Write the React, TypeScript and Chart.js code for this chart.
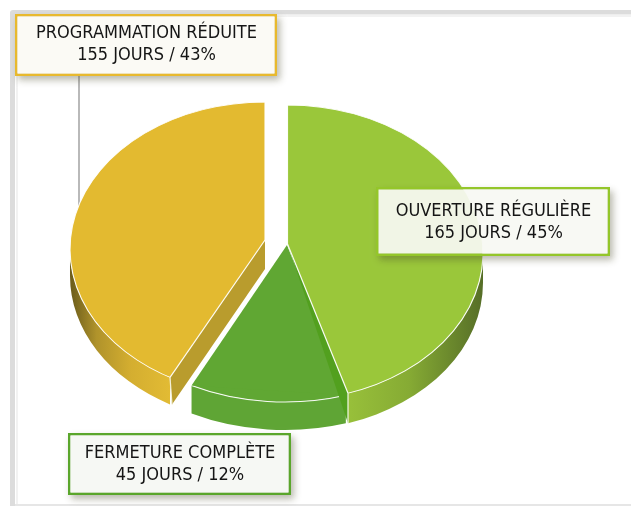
import { useEffect, useRef } from "react";
import { Chart, registerables } from "chart.js";

Chart.register(...registerables);

const categories = ["OUVERTURE RÉGULIÈRE", "FERMETURE COMPLÈTE", "PROGRAMMATION RÉDUITE"];
const days = [165, 45, 155];
const percents = [45, 12, 43];
const topColors = ["#9ac73a", "#60a733", "#e3ba30"];
const calloutBorders = ["#94c62a", "#5aa62b", "#e8b92e"];
const calloutFills = ["rgba(248,249,243,0.93)", "rgba(246,248,244,0.96)", "rgba(251,250,245,0.97)"];

// placement of each slice's tilted disc on the page
const discs = [
  { cx: 287.5, cy: 252.8, rx: 195.5, ry: 147.8, depth: 30 },
  { cx: 285, cy: 252, rx: 205, ry: 150, depth: 28 },
  { cx: 265, cy: 249, rx: 195, ry: 147, depth: 27 },
];
const apexes = [
  { x: 287.5, y: 244 },
  { x: 287, y: 245 },
  { x: 265, y: 240 },
];
const yellowCornerX = 170;
const greenCornerX = 348;
const callouts = [
  { x: 376, y: 187, w: 234, h: 69, lw: 2.5, l1: 211, l2: 233 },
  { x: 68, y: 433, w: 223, h: 62, lw: 2.5, l1: 453, l2: 475 },
  { x: 15, y: 14, w: 262, h: 62, lw: 2.5, l1: 33, l2: 55 },
];

function sidePath(ctx: CanvasRenderingContext2D, d: any, a0: number, a1: number) {
  ctx.beginPath();
  ctx.ellipse(d.cx, d.cy, d.rx, d.ry, 0, a0, a1, false);
  ctx.ellipse(d.cx, d.cy + d.depth, d.rx, d.ry, 0, a1, a0, true);
  ctx.closePath();
}

const pie3d = {
  id: "pie3d",
  beforeDatasetDraw(chart: any) {
    const ctx: CanvasRenderingContext2D = chart.ctx;
    const arcs = chart.getDatasetMeta(0).data;
    const at = (i: number, a: number) => ({
      x: discs[i].cx + Math.cos(a) * discs[i].rx,
      y: discs[i].cy + Math.sin(a) * discs[i].ry,
    });

    // frame
    ctx.save();
    ctx.fillStyle = "#dcdcdc";
    ctx.beginPath();
    ctx.roundRect(10, 10, 621, 4.5, [3, 0, 0, 0]);
    ctx.roundRect(10, 10, 5, 496, [3, 0, 0, 0]);
    ctx.fill();
    ctx.fillStyle = "#e6e6e6";
    ctx.fillRect(15, 15.5, 616, 1);
    ctx.fillRect(16.5, 16, 1, 488);
    ctx.fillRect(15, 504, 616, 2);
    ctx.restore();

    // leader line
    ctx.save();
    ctx.strokeStyle = "#a2a2a2";
    ctx.lineWidth = 1.5;
    ctx.beginPath();
    ctx.moveTo(79, 75);
    ctx.lineTo(79, 206);
    ctx.stroke();
    ctx.restore();

    const drawTop = (i: number, clip?: Path2D) => {
      const arc = arcs[i];
      const d = discs[i];
      ctx.save();
      if (clip) ctx.clip(clip);
      ctx.translate(d.cx, d.cy);
      ctx.scale(d.rx / arc.outerRadius, d.ry / arc.outerRadius);
      ctx.translate(-arc.x, -arc.y);
      arc.draw(ctx);
      ctx.restore();
    };

    const edgeColor = "rgba(255,255,255,0.92)";

    // yellow slice
    {
      const d = discs[2];
      const a = apexes[2];
      const aCorner = Math.PI - Math.acos((d.cx - yellowCornerX) / d.rx);
      const c = at(2, aCorner);
      const g = ctx.createLinearGradient(72, 0, c.x, 0);
      g.addColorStop(0, "#6f5f1c");
      g.addColorStop(0.25, "#b0932b");
      g.addColorStop(0.6, "#d4ae30");
      g.addColorStop(1, "#e2bb34");
      ctx.fillStyle = g;
      sidePath(ctx, d, aCorner, Math.PI);
      ctx.fill();
      ctx.fillStyle = "#b99c2d";
      ctx.beginPath();
      ctx.moveTo(a.x, a.y);
      ctx.lineTo(c.x, c.y);
      ctx.lineTo(c.x + 2, c.y + d.depth);
      ctx.lineTo(a.x, a.y + 29);
      ctx.closePath();
      ctx.fill();
      ctx.strokeStyle = "#f3efd8";
      ctx.lineWidth = 1.2;
      ctx.beginPath();
      ctx.moveTo(c.x, c.y);
      ctx.lineTo(c.x + 2, c.y + d.depth);
      ctx.stroke();
      const clip = new Path2D();
      clip.moveTo(a.x + 3, 0);
      clip.lineTo(a.x + 3, a.y);
      clip.lineTo(a.x, a.y);
      clip.lineTo(c.x, c.y);
      clip.lineTo(c.x - 30, c.y + 44);
      clip.lineTo(0, c.y + 44);
      clip.lineTo(0, 0);
      clip.closePath();
      drawTop(2, clip);
      ctx.strokeStyle = edgeColor;
      ctx.lineWidth = 1.2;
      ctx.beginPath();
      ctx.moveTo(a.x, a.y);
      ctx.lineTo(c.x, c.y);
      ctx.stroke();
    }

    // dark green slice
    {
      const arc = arcs[1];
      const d = discs[1];
      const a = apexes[1];
      ctx.fillStyle = "#5fa535";
      sidePath(ctx, d, arc.startAngle, arc.endAngle);
      ctx.fill();
      drawTop(1);
      const p0 = at(1, arc.startAngle);
      const p1 = at(1, arc.endAngle);
      ctx.fillStyle = topColors[1];
      ctx.beginPath();
      ctx.moveTo(a.x, a.y);
      ctx.lineTo(p0.x, p0.y);
      ctx.lineTo(p1.x, p1.y);
      ctx.closePath();
      ctx.fill();
    }

    // light green slice
    {
      const d = discs[0];
      const a = apexes[0];
      const aCorner = Math.acos((greenCornerX - d.cx) / d.rx);
      const c = at(0, aCorner);
      const g = ctx.createLinearGradient(c.x, 0, d.cx + d.rx, 0);
      g.addColorStop(0, "#98c03a");
      g.addColorStop(0.45, "#86ab34");
      g.addColorStop(1, "#566e27");
      ctx.fillStyle = g;
      sidePath(ctx, d, 0, aCorner);
      ctx.fill();
      ctx.fillStyle = "#52a01e";
      ctx.beginPath();
      ctx.moveTo(a.x, a.y);
      ctx.lineTo(c.x, c.y);
      ctx.lineTo(c.x, c.y + d.depth);
      ctx.closePath();
      ctx.fill();
      ctx.strokeStyle = "#f4f7ea";
      ctx.lineWidth = 1.2;
      ctx.beginPath();
      ctx.moveTo(c.x, c.y);
      ctx.lineTo(c.x, c.y + d.depth);
      ctx.stroke();
      const clip = new Path2D();
      clip.moveTo(a.x - 3, 0);
      clip.lineTo(a.x - 3, a.y);
      clip.lineTo(a.x, a.y);
      clip.lineTo(c.x, c.y);
      clip.lineTo(c.x + 20, c.y + 49);
      clip.lineTo(631, c.y + 49);
      clip.lineTo(631, 0);
      clip.closePath();
      drawTop(0, clip);
      ctx.strokeStyle = edgeColor;
      ctx.lineWidth = 1.2;
      ctx.beginPath();
      ctx.moveTo(a.x, a.y);
      ctx.lineTo(c.x, c.y);
      ctx.stroke();
    }
    return false;
  },
  afterDatasetsDraw(chart: any) {
    const ctx: CanvasRenderingContext2D = chart.ctx;
    categories.forEach((name, i) => {
      const b = callouts[i];
      const ix = b.x + b.lw;
      const iy = b.y + b.lw;
      const iw = b.w - 2 * b.lw;
      const ih = b.h - 2 * b.lw;
      ctx.save();
      const hole = new Path2D();
      hole.rect(0, 0, 631, 506);
      hole.rect(ix, iy, iw, ih);
      ctx.clip(hole, "evenodd");
      ctx.shadowColor = "rgba(70,70,40,0.38)";
      ctx.shadowBlur = 7;
      ctx.shadowOffsetX = 3;
      ctx.shadowOffsetY = 4;
      ctx.fillStyle = calloutBorders[i];
      ctx.fillRect(b.x, b.y, b.w, b.h);
      ctx.restore();
      ctx.save();
      ctx.fillStyle = calloutFills[i];
      ctx.fillRect(ix, iy, iw, ih);
      ctx.fillStyle = "#151515";
      ctx.font = '18px "DejaVu Sans Condensed", "DejaVu Sans"';
      ctx.textAlign = "center";
      ctx.textBaseline = "middle";
      const mid = b.x + b.w / 2 + 0.5;
      ctx.fillText(name, mid, b.l1);
      ctx.fillText(`${days[i]} JOURS / ${percents[i]}%`, mid, b.l2);
      ctx.restore();
    });
  },
};

export default function App() {
  const ref = useRef<HTMLCanvasElement>(null);
  useEffect(() => {
    const chart = new Chart(ref.current!, {
      type: "pie",
      data: {
        labels: categories,
        datasets: [
          {
            data: days,
            backgroundColor: topColors,
            borderColor: "rgba(255,255,255,0.92)",
            borderWidth: 1.5,
            borderJoinStyle: "round",
          },
        ],
      },
      options: {
        animation: false,
        responsive: false,
        events: [],
        plugins: { legend: { display: false }, tooltip: { enabled: false }, title: { display: false } },
      },
      plugins: [pie3d],
    } as any);
    return () => chart.destroy();
  }, []);
  return (
    <div style={{ position: "absolute", left: 0, top: 0, width: 631, height: 506, background: "#fff" }}>
      <canvas ref={ref} width={631} height={506} style={{ display: "block" }} />
    </div>
  );
}
